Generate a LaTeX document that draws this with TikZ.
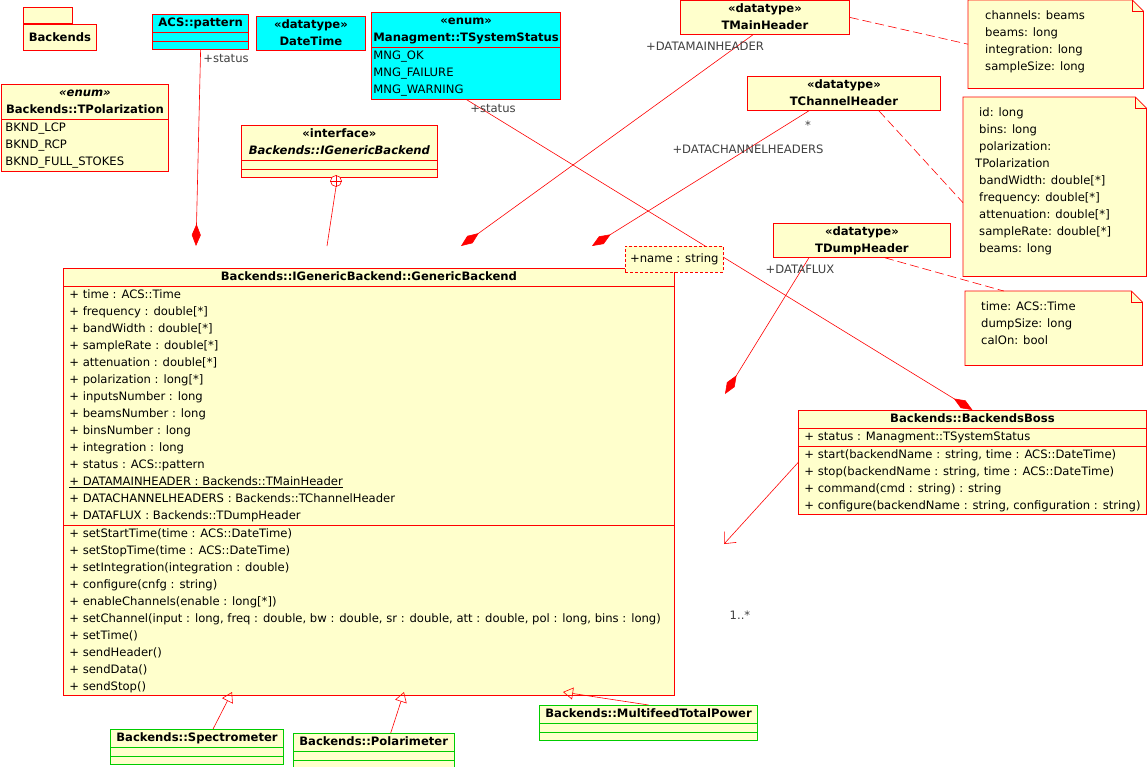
\documentclass[tikz,border=0pt]{standalone}
\usepackage{fontspec}
\setmainfont{DejaVu Sans}
\usetikzlibrary{positioning,shapes.multipart,arrows.meta,backgrounds}
\definecolor{umlred}{RGB}{255,0,0}
\definecolor{umlyellow}{RGB}{255,255,204}
\definecolor{umlcyan}{RGB}{0,255,255}
\definecolor{umlgreen}{RGB}{0,204,0}
\definecolor{lblgray}{RGB}{64,64,64}

\begin{document}
\begin{tikzpicture}[x=1pt,y=-1pt,
        every node/.style={font=\fontsize{11.6}{17}\selectfont},
        cls/.style={rectangle split,rectangle split part align={center,left,left},
            draw=umlred,fill=umlyellow,line width=.8pt,anchor=north west,
            inner xsep=6pt,inner ysep=0pt,align=left,
            rectangle split empty part height=8pt,rectangle split empty part depth=0pt},
        dtype/.style={draw=umlred,fill=umlyellow,line width=.8pt,anchor=north west,
            inner ysep=0pt,align=center},
        sub/.style={cls,draw=umlgreen,rectangle split parts=3},
        note/.style={minimum width=#1,anchor=north west,inner sep=0pt},
        notetext/.style={anchor=north west,align=left,inner sep=0pt},
        lbl/.style={text=lblgray,inner sep=1pt},
        link/.style={draw=umlred,line width=.6pt},
        comp/.style={link,-{Diamond[length=22pt,width=9pt]}},
        gen/.style={link,-{Triangle[open,length=10pt,width=12pt]}},
        nav/.style={link,-{Straight Barb[length=9pt,width=16pt]}},
        notelink/.style={link,dash pattern=on 9pt off 4pt}
    ]
\useasboundingbox (0,0) rectangle (1147,766);

% package
\node[dtype,minimum width=73pt,minimum height=26pt] (bkPkg) at (23,24) {\textbf{Backends}};
\node[dtype,minimum width=49pt,minimum height=16pt,anchor=south west] (bkTab) at (bkPkg.north west) {};

% cyan types
\node[cls,fill=umlcyan,rectangle split parts=3,minimum width=91pt] (acsPattern) at (152,14)
    {\strut\textbf{ACS::pattern} \nodepart{second} \nodepart{third}};
\node[dtype,fill=umlcyan,minimum width=109pt] (dateTime) at (256,16)
    {\strut\textbf{«datatype»}\\\strut\textbf{DateTime}};
\node[cls,fill=umlcyan,rectangle split parts=2,minimum width=188pt,inner xsep=2pt] (sysStatus) at (371,12)
    {\begin{tabular}{@{}c@{}}\textbf{«enum»}\\\textbf{Managment::TSystemStatus}\end{tabular}
     \nodepart{second}
     \strut MNG\_OK\\\strut MNG\_FAILURE\\\strut MNG\_WARNING};

\node[cls,rectangle split parts=2,minimum width=167pt,inner xsep=4pt] (tPolar) at (1,84)
    {\begin{tabular}{@{}c@{}}\textbf{\textit{«enum»}}\\\textbf{Backends::TPolarization}\end{tabular}
     \nodepart{second}
     \strut BKND\_LCP\\\strut BKND\_RCP\\\strut BKND\_FULL\_STOKES};
\node[cls,rectangle split parts=3,minimum width=196pt] (genIface) at (241,125)
    {\begin{tabular}{@{}c@{}}\textbf{«interface»}\\\textbf{\textit{Backends::IGenericBackend}}\end{tabular}
     \nodepart{second} \nodepart{third}};

% headers
\node[dtype,minimum width=169pt] (mainHdr) at (680,0)
    {\strut\textbf{«datatype»}\\\strut\textbf{TMainHeader}};
\node[dtype,minimum width=193pt] (chanHdr) at (747,76)
    {\strut\textbf{«datatype»}\\\strut\textbf{TChannelHeader}};
\node[dtype,minimum width=177pt] (dumpHdr) at (773,223)
    {\strut\textbf{«datatype»}\\\strut\textbf{TDumpHeader}};

% notes
\node[note=175pt,minimum height=88pt,
    label={[notetext,xshift=17pt,yshift=-7pt]north west:{\strut channels: beams\\\strut beams: long\\
        \strut integration: long\\\strut sampleSize: long}}] (chNote) at (968,0) {};
\node[note=183pt,minimum height=179pt,
    label={[notetext,xshift=16pt,yshift=-7pt]north west:{\strut id: long\\\strut bins: long\\
        \strut polarization:\\\strut\hspace*{-4pt}TPolarization\\\strut bandWidth: double[*]\\
        \strut frequency: double[*]\\\strut attenuation: double[*]\\\strut sampleRate: double[*]\\
        \strut beams: long}}] (hdrNote) at (963,97) {};
\node[note=177pt,minimum height=74pt,
    label={[notetext,xshift=16pt,yshift=-7pt]north west:{\strut time: ACS::Time\\
        \strut dumpSize: long\\\strut calOn: bool}}] (dumpNote) at (965,291) {};
\begin{scope}[on background layer]
\foreach \n in {chNote,hdrNote,dumpNote} {
    \draw[link,line width=.8pt,fill=umlyellow] (\n.north west) -- ([xshift=-11pt]\n.north east)
        -- ([yshift=-11pt]\n.north east) -- (\n.south east) -- (\n.south west) -- cycle;
    \draw[link] ([xshift=-11pt]\n.north east) |- ([yshift=-11pt]\n.north east);
}
\end{scope}

% main class
\node[cls,rectangle split parts=3,minimum width=611pt] (genBackend) at (63,268)
    {\strut\textbf{Backends::IGenericBackend::GenericBackend}
     \nodepart{second}
     \strut+ time : ACS::Time\\
     \strut+ frequency : double[*]\\
     \strut+ bandWidth : double[*]\\
     \strut+ sampleRate : double[*]\\
     \strut+ attenuation : double[*]\\
     \strut+ polarization : long[*]\\
     \strut+ inputsNumber : long\\
     \strut+ beamsNumber : long\\
     \strut+ binsNumber : long\\
     \strut+ integration : long\\
     \strut+ status : ACS::pattern\\
     \strut\underline{+ DATAMAINHEADER : Backends::TMainHeader}\\
     \strut+ DATACHANNELHEADERS : Backends::TChannelHeader\\
     \strut+ DATAFLUX : Backends::TDumpHeader
     \nodepart{third}
     \strut+ setStartTime(time : ACS::DateTime)\\
     \strut+ setStopTime(time : ACS::DateTime)\\
     \strut+ setIntegration(integration : double)\\
     \strut+ configure(cnfg : string)\\
     \strut+ enableChannels(enable : long[*])\\
     \strut+ setChannel(input : long, freq : double, bw : double, sr : double, att : double, pol : long, bins : long)\\
     \strut+ setTime()\\
     \strut+ sendHeader()\\
     \strut+ sendData()\\
     \strut+ sendStop()};

\node[cls,rectangle split parts=3,minimum width=348pt] (bkBoss) at (798,410)
    {\strut\textbf{Backends::BackendsBoss}
     \nodepart{second}
     \strut+ status : Managment::TSystemStatus
     \nodepart{third}
     \strut+ start(backendName : string, time : ACS::DateTime)\\
     \strut+ stop(backendName : string, time : ACS::DateTime)\\
     \strut+ command(cmd : string) : string\\
     \strut+ configure(backendName : string, configuration : string)};

% subclasses
\node[sub,minimum width=172pt] (spectro) at (110,729)
    {\strut\textbf{Backends::Spectrometer} \nodepart{second} \nodepart{third}};
\node[sub,minimum width=157pt] (polari) at (293,733)
    {\strut\textbf{Backends::Polarimeter} \nodepart{second} \nodepart{third}};
\node[sub,minimum width=218pt] (multiTP) at (539,705)
    {\strut\textbf{Backends::MultifeedTotalPower} \nodepart{second} \nodepart{third}};

% connector ends
\coordinate (patEnd) at (196,246);
\coordinate (implEnd) at (327,246);
\coordinate (mainEnd) at (461,246);
\coordinate (chanEnd) at (592,246);
\coordinate (dumpEnd) at (725,394);
\coordinate (bossEnd) at (724,544);
\coordinate (specTip) at (232,692);
\coordinate (polTip) at (404,692);
\coordinate (multiTip) at (563,692);

\draw[comp] (acsPattern.south) -- (patEnd);
\node[lbl] (patLbl) at (226,59) {+status};

\node[circle,draw=umlred,fill=white,line width=.6pt,inner sep=0pt,minimum size=11pt] (ifaceCirc) at (336,181) {};
\draw[link] (ifaceCirc.north) -- (ifaceCirc.south) (ifaceCirc.west) -- (ifaceCirc.east);
\draw[link] (ifaceCirc.south) -- (implEnd);

\draw[comp] ([xshift=-12pt]mainHdr.south) -- (mainEnd);
\node[lbl] (mainLbl) at (705,46) {+DATAMAINHEADER};
\draw[comp] ([xshift=-35pt]chanHdr.south) -- (chanEnd);
\node[lbl] (chanStar) at (808,125) {*};
\node[lbl] (chanLbl) at (748,149) {+DATACHANNELHEADERS};
\draw[comp] ([xshift=-53pt]dumpHdr.south) -- (dumpEnd);
\node[lbl] (dumpLbl) at (800,269) {+DATAFLUX};

\draw[comp] (sysStatus.south) -- (bkBoss.north);
\node[lbl] (statLbl) at (493,109) {+status};
\node[draw=umlred,fill=umlyellow,dash pattern=on 3pt off 2pt,line width=.6pt,anchor=north west,
    minimum width=98pt,minimum height=26pt,inner sep=0pt] (nameQual) at (625,246) {+name : string};

\draw[nav] (bkBoss.west) -- (bossEnd);
\node[lbl] (bossMult) at (740,615) {1..*};

\draw[gen] ([xshift=16pt]spectro.north) -- (specTip);
\draw[gen] ([xshift=17pt]polari.north) -- (polTip);
\draw[gen] (multiTP.north) -- (multiTip);

% note links
\draw[notelink] (mainHdr.east) -- (chNote.west);
\draw[notelink] ([xshift=35pt]chanHdr.south) -- ([yshift=-16pt]hdrNote.west);
\draw[notelink] ([xshift=23pt]dumpHdr.south) -- ([xshift=-50pt]dumpNote.north);
\end{tikzpicture}
\end{document}
